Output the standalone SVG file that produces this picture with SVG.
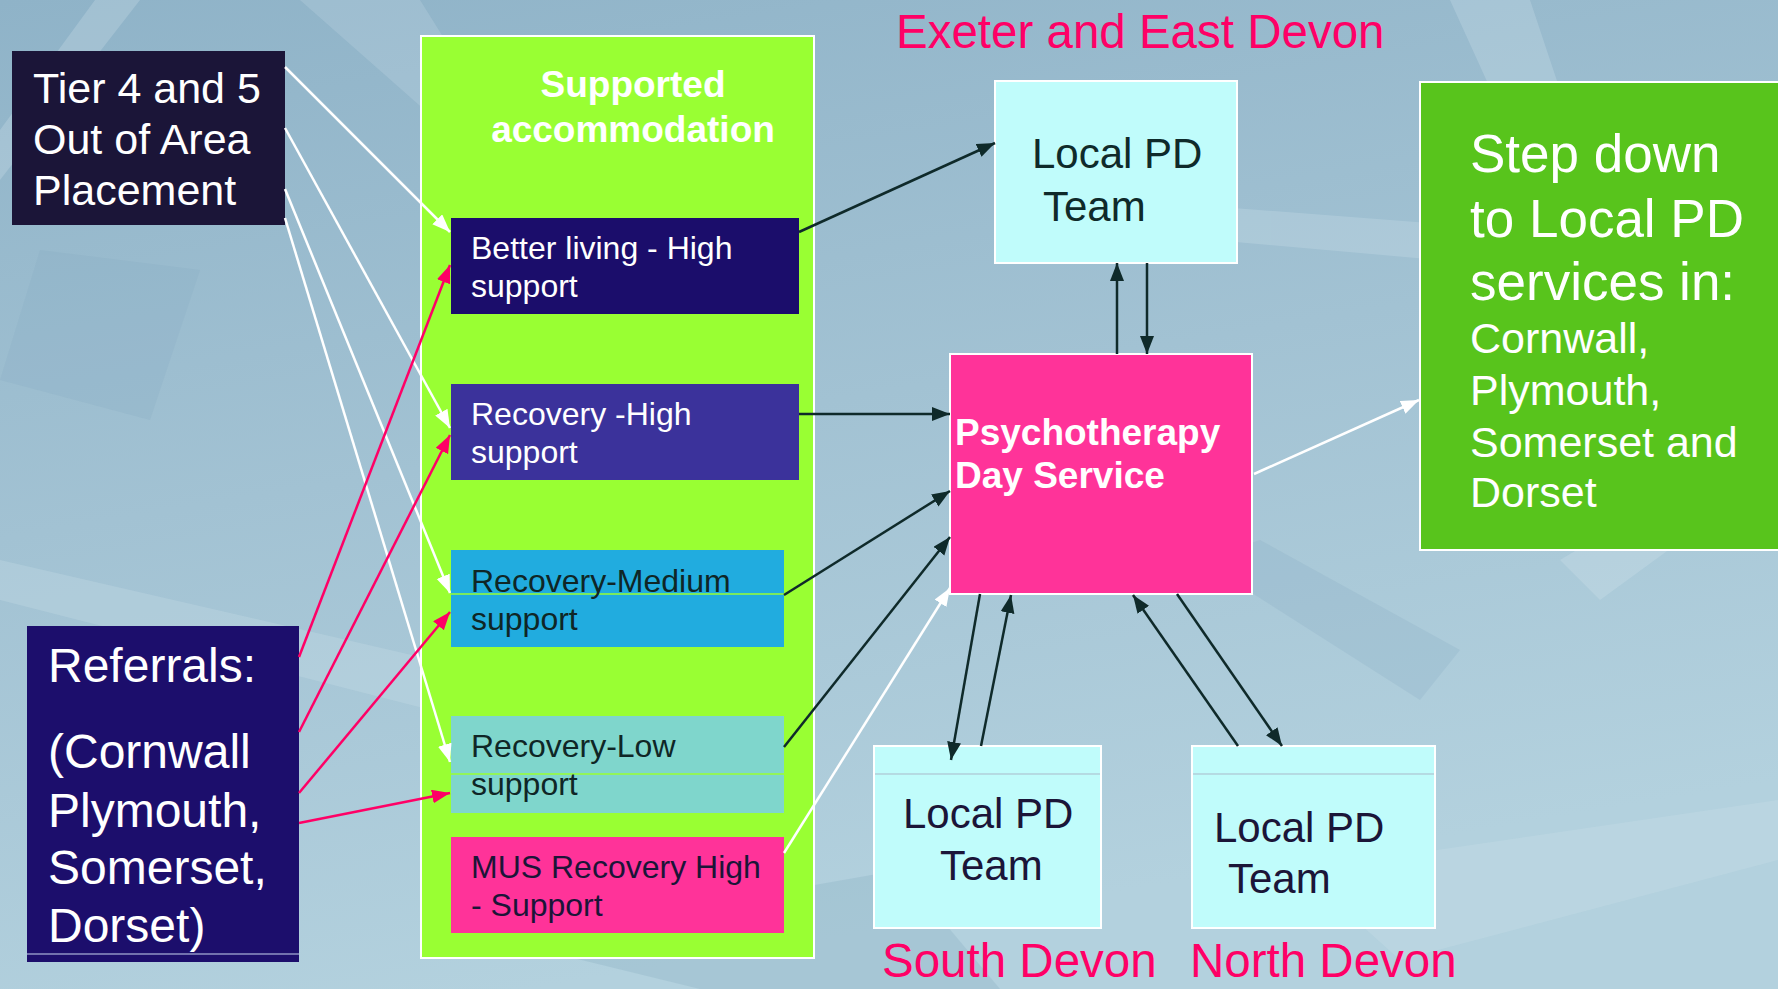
<svg xmlns="http://www.w3.org/2000/svg" width="1778" height="989" viewBox="0 0 1778 989">
<defs>
<linearGradient id="bg" x1="0" y1="0" x2="0.3" y2="1">
<stop offset="0" stop-color="#8fb3c8"/>
<stop offset="0.5" stop-color="#a2c2d3"/>
<stop offset="1" stop-color="#b3d1de"/>
</linearGradient>
<marker id="aw" markerUnits="userSpaceOnUse" markerWidth="20" markerHeight="16" refX="18" refY="7" orient="auto"><path d="M0,0 L18,7 L0,14 Z" fill="#ffffff"/></marker>
<marker id="ap" markerUnits="userSpaceOnUse" markerWidth="20" markerHeight="16" refX="18" refY="7" orient="auto"><path d="M0,0 L18,7 L0,14 Z" fill="#ff0066"/></marker>
<marker id="ad" markerUnits="userSpaceOnUse" markerWidth="20" markerHeight="16" refX="18" refY="7" orient="auto"><path d="M0,0 L18,7 L0,14 Z" fill="#0f2a2a"/></marker>
<style>
text{font-family:"Liberation Sans",Arial,sans-serif;}
.w{stroke:#ffffff;stroke-width:2.5;fill:none;marker-end:url(#aw);}
.p{stroke:#ff0066;stroke-width:2.5;fill:none;marker-end:url(#ap);}
.d{stroke:#0f2a2a;stroke-width:2.5;fill:none;marker-end:url(#ad);}
.box{stroke:#ffffff;stroke-width:2;}
.lpd{fill:#c0fcfb;stroke:#ffffff;stroke-width:2;}
.region{fill:#ff0066;font-size:47.5px;}
.sub{font-size:32px;}
</style>
</defs>
<rect width="1778" height="989" fill="url(#bg)"/>
<g opacity="0.25">
<polygon points="0,130 95,0 140,0 0,180" fill="#d8e8f0"/>
<polygon points="0,560 0,600 470,720 520,680" fill="#d0e2ec"/>
<polygon points="300,0 420,0 520,160 470,150" fill="#c8dde8"/>
<polygon points="1000,190 1778,250 1778,290 1100,230" fill="#d4e6ef"/>
<polygon points="1450,0 1530,0 1640,330 1600,330" fill="#d6e8f1"/>
<polygon points="1560,560 1778,430 1778,470 1600,600" fill="#d6e8f1"/>
<polygon points="500,940 900,870 1000,989 700,989" fill="#7fa6bd"/>
<polygon points="1300,870 1778,800 1778,860 1400,960" fill="#d0e2ec"/>
<polygon points="40,250 200,270 150,420 0,380" fill="#86abc2"/>
<polygon points="1200,560 1420,700 1460,650 1260,540" fill="#86abc2"/>
</g>
<g id="tier">
<rect x="12" y="51" width="273" height="174" fill="#1b1538"/>
<text fill="#ffffff" font-size="43"><tspan x="33" y="103">Tier 4 and 5</tspan><tspan x="33" y="154">Out of Area</tspan><tspan x="33" y="205">Placement</tspan></text>
</g>
<g id="referrals">
<rect x="27" y="626" width="272" height="336" fill="#1c0e6c"/>
<line x1="27" y1="954" x2="299" y2="954" stroke="#c8d4f0" stroke-width="1"/>
<text fill="#ffffff" font-size="48"><tspan x="48" y="682">Referrals:</tspan><tspan x="48" y="768">(Cornwall</tspan><tspan x="48" y="827">Plymouth,</tspan><tspan x="48" y="884">Somerset,</tspan><tspan x="48" y="942">Dorset)</tspan></text>
</g>
<g id="supported">
<rect x="421" y="36" width="393" height="922" fill="#99ff33" class="box"/>
<text fill="#ffffff" font-size="37" font-weight="bold" text-anchor="middle"><tspan x="633" y="97">Supported</tspan><tspan x="633" y="142">accommodation</tspan></text>
</g>
<g id="better-living">
<rect x="451" y="218" width="348" height="96" fill="#1b0d6b"/>
<text class="sub" fill="#ffffff"><tspan x="471" y="259">Better living - High</tspan><tspan x="471" y="297">support</tspan></text>
</g>
<g id="recovery-high">
<rect x="451" y="384" width="348" height="96" fill="#3b329b"/>
<text class="sub" fill="#ffffff"><tspan x="471" y="425">Recovery -High</tspan><tspan x="471" y="463">support</tspan></text>
</g>
<g id="recovery-medium">
<rect x="451" y="550" width="333" height="97" fill="#21acdf"/>
<line x1="451" y1="594" x2="784" y2="594" stroke="#99ff33" stroke-width="1.5"/>
<text class="sub" fill="#0f2626"><tspan x="471" y="592">Recovery-Medium</tspan><tspan x="471" y="630">support</tspan></text>
</g>
<g id="recovery-low">
<rect x="451" y="716" width="333" height="97" fill="#7fd6cc"/>
<line x1="451" y1="774" x2="784" y2="774" stroke="#99ff33" stroke-width="1.5"/>
<text class="sub" fill="#0f2626"><tspan x="471" y="757">Recovery-Low</tspan><tspan x="471" y="795">support</tspan></text>
</g>
<g id="mus">
<rect x="451" y="837" width="333" height="96" fill="#ff3399"/>
<text class="sub" fill="#1b1538"><tspan x="471" y="878">MUS Recovery High</tspan><tspan x="471" y="916">- Support</tspan></text>
</g>
<g id="exeter">
<text class="region" x="896" y="48">Exeter and East Devon</text>
<rect x="995" y="81" width="242" height="182" class="lpd"/>
<text fill="#0f2a2a" font-size="42"><tspan x="1032" y="168">Local PD</tspan><tspan x="1043" y="221">Team</tspan></text>
</g>
<g id="psychotherapy">
<rect x="950" y="354" width="302" height="240" fill="#ff3399" class="box"/>
<text fill="#ffffff" font-size="37" font-weight="bold"><tspan x="955" y="445">Psychotherapy</tspan><tspan x="955" y="488">Day Service</tspan></text>
</g>
<g id="step-down">
<rect x="1420" y="82" width="380" height="468" fill="#58c41c" class="box"/>
<text fill="#ffffff" font-size="53"><tspan x="1470" y="172">Step down</tspan><tspan x="1470" y="237">to Local PD</tspan><tspan x="1470" y="300">services in:</tspan></text>
<text fill="#ffffff" font-size="43"><tspan x="1470" y="353">Cornwall,</tspan><tspan x="1470" y="405">Plymouth,</tspan><tspan x="1470" y="457">Somerset and</tspan><tspan x="1470" y="507">Dorset</tspan></text>
</g>
<g id="south">
<rect x="874" y="746" width="227" height="182" class="lpd"/>
<line x1="875" y1="774" x2="1100" y2="774" stroke="#a9b9c9" stroke-width="1"/>
<text fill="#1b1538" font-size="42"><tspan x="903" y="828">Local PD</tspan><tspan x="940" y="880">Team</tspan></text>
<text class="region" x="882" y="977">South Devon</text>
</g>
<g id="north">
<rect x="1192" y="746" width="243" height="182" class="lpd"/>
<line x1="1193" y1="774" x2="1434" y2="774" stroke="#a9b9c9" stroke-width="1"/>
<text fill="#1b1538" font-size="42"><tspan x="1214" y="842">Local PD</tspan><tspan x="1228" y="893">Team</tspan></text>
<text class="region" x="1190" y="977">North Devon</text>
</g>
<g id="connectors">
<line class="w" x1="285" y1="67" x2="450" y2="232"/>
<line class="w" x1="285" y1="128" x2="450" y2="428"/>
<line class="w" x1="285" y1="189" x2="450" y2="593"/>
<line class="w" x1="285" y1="218" x2="450" y2="762"/>
<line class="p" x1="299" y1="657" x2="450" y2="265"/>
<line class="p" x1="299" y1="732" x2="450" y2="435"/>
<line class="p" x1="299" y1="793" x2="450" y2="612"/>
<line class="p" x1="299" y1="823" x2="450" y2="793"/>
<line class="d" x1="799" y1="232" x2="995" y2="143"/>
<line class="d" x1="799" y1="414" x2="950" y2="414"/>
<line class="d" x1="784" y1="595" x2="950" y2="491"/>
<line class="d" x1="784" y1="747" x2="950" y2="537"/>
<line class="w" x1="784" y1="853" x2="950" y2="588"/>
<line class="w" x1="1254" y1="474" x2="1419" y2="400"/>
<line class="d" x1="1117" y1="354" x2="1117" y2="263"/>
<line class="d" x1="1147" y1="263" x2="1147" y2="354"/>
<line class="d" x1="980" y1="594" x2="951" y2="760"/>
<line class="d" x1="981" y1="746" x2="1011" y2="595"/>
<line class="d" x1="1238" y1="746" x2="1133" y2="595"/>
<line class="d" x1="1177" y1="594" x2="1282" y2="746"/>
</g>
</svg>
